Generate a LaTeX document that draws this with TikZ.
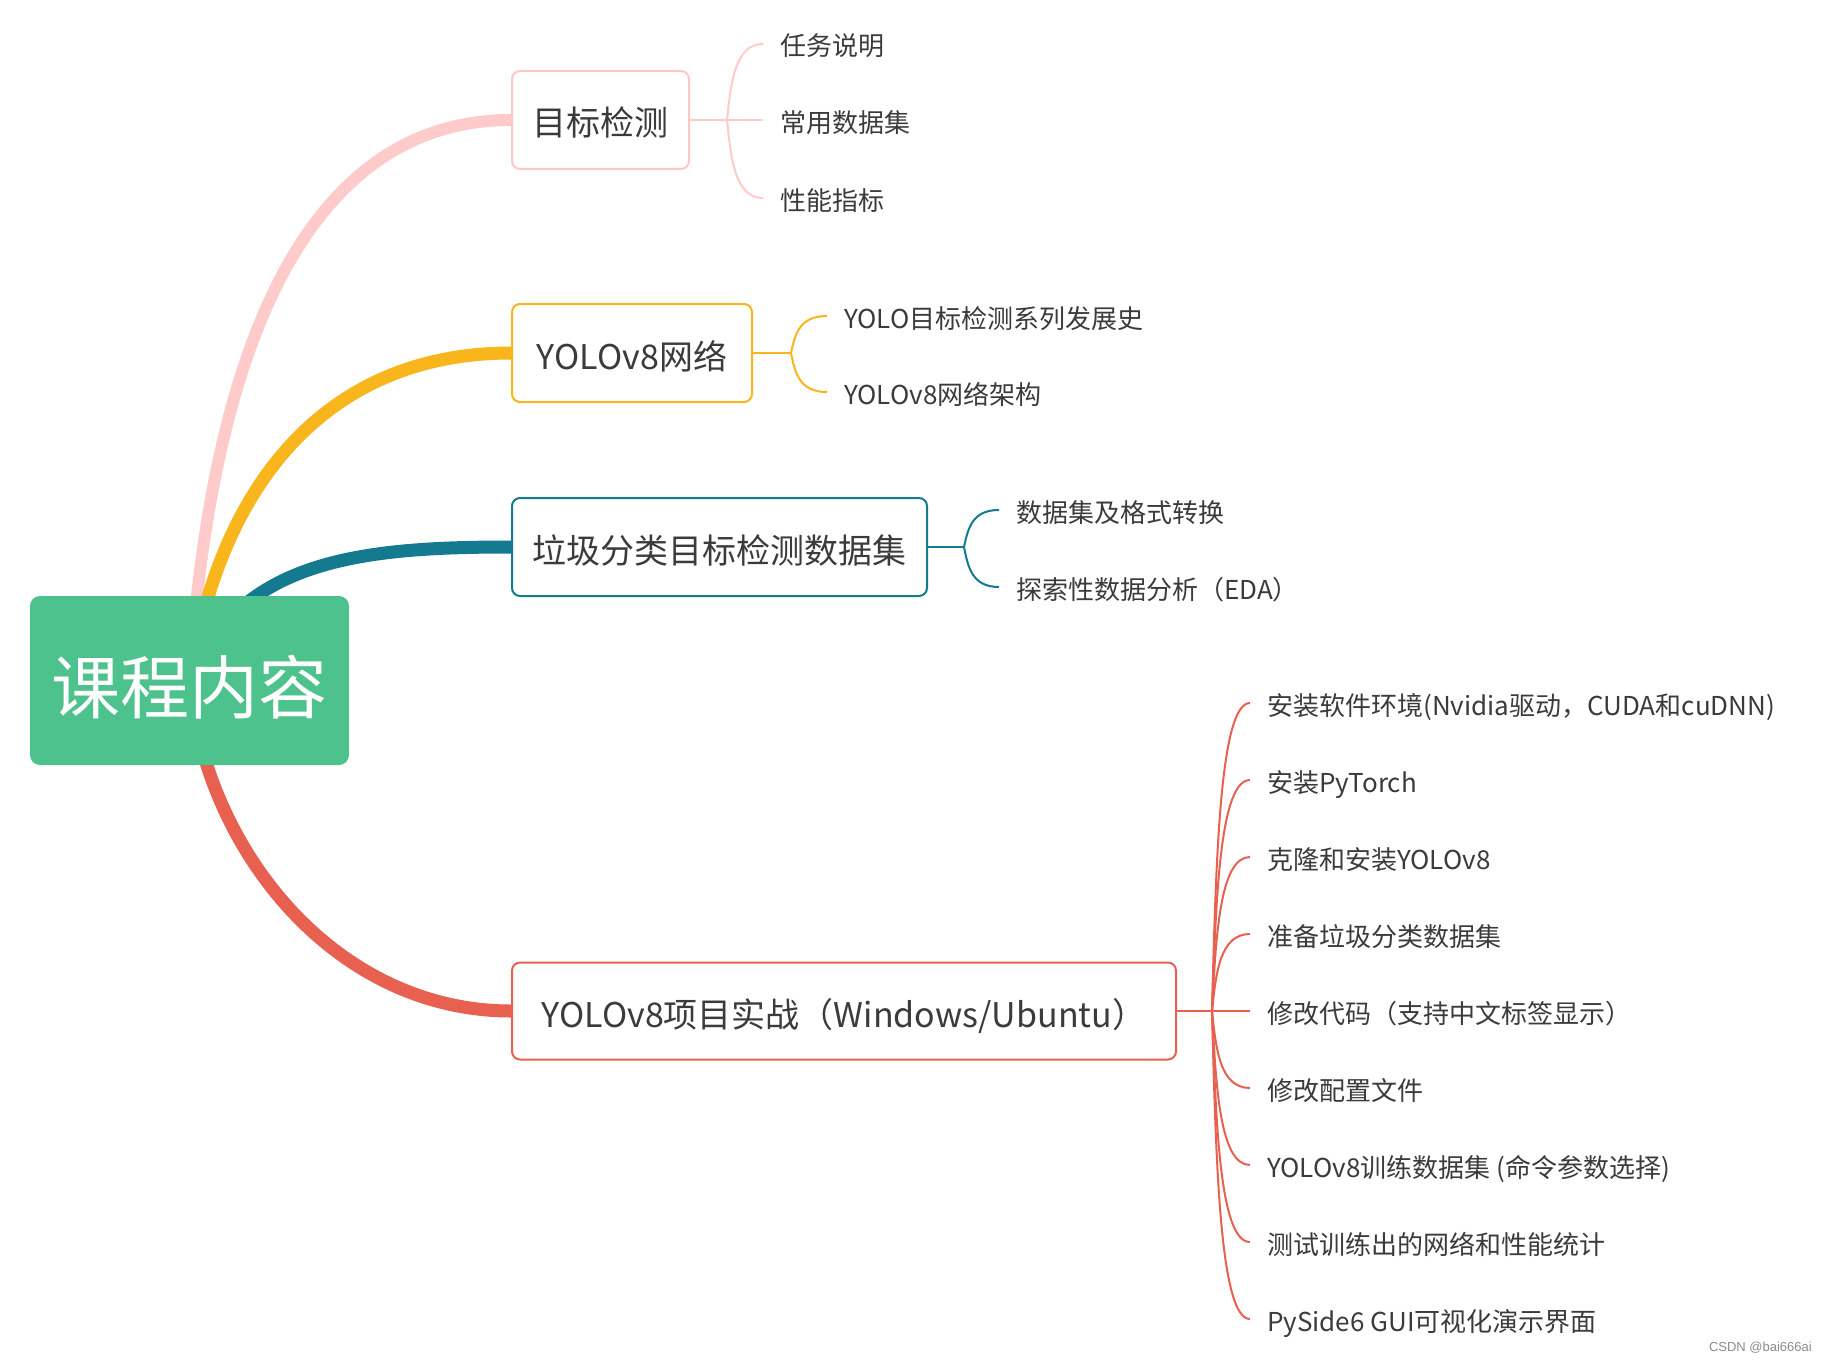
\documentclass[tikz,border=0pt]{standalone}
\usepackage{fontspec}
\setmainfont{Noto Sans CJK SC}
\newfontfamily\wmfont{Liberation Sans}
\usetikzlibrary{calc,backgrounds}
\definecolor{cpink}{HTML}{FFCACA}
\definecolor{cpinkb}{HTML}{FFC6C6}
\definecolor{cyellow}{HTML}{F8B51C}
\definecolor{cteal}{HTML}{147A90}
\definecolor{cred}{HTML}{E8604F}
\definecolor{cgreen}{HTML}{4EC28C}
\definecolor{ctext}{HTML}{3B3B3B}
\newcommand\mmbranch[3]{\draw[#1] (#2) .. controls ($(#2)!0.5!(#2 |- #3.west)+(4,0)$) and ($(#2 |- #3.west)+(8,0)$) .. (#3.west);}
\begin{document}
\begin{tikzpicture}[x=1pt,y=-1pt,
  topic/.style={draw=#1, line width=2pt, rounded corners=8pt, fill=white, inner sep=0pt, anchor=west, font=\fontsize{34}{40}\selectfont, text=ctext, text height=33pt, text depth=1pt},
  leaf/.style={anchor=west, inner xsep=17pt, inner ysep=0pt, font=\fontsize{26}{30}\selectfont, text=ctext, text height=25pt, text depth=1pt},
  bigbranch/.style={line width=13pt, draw=#1},
  twig/.style={line width=2pt, draw=#1}]
\useasboundingbox (0,0) rectangle (1826,1362);

% root
\node[fill=cgreen, rounded corners=10pt, minimum width=319pt, minimum height=169pt, inner sep=0pt, text=white, font=\fontsize{69}{80}\selectfont, text height=70pt, text depth=5pt] (root) at (189.5,680.5) {课程内容};

% topics
\node[topic=cpinkb, minimum width=177pt, minimum height=98pt] (t1) at (511,120) {目标检测};
\node[topic=cyellow, minimum width=240pt, minimum height=98pt] (t2) at (511,353) {YOLOv8网络};
\node[topic=cteal, minimum width=415pt, minimum height=98pt] (t3) at (511,547) {垃圾分类目标检测数据集};
\node[topic=cred, minimum width=664pt, minimum height=97pt] (t4) at (511,1011) {YOLOv8项目实战（Windows/Ubuntu）};

% leaves
\node[leaf] (a1) at (763,44) {任务说明};
\node[leaf] (a2) at (763,120) {常用数据集};
\node[leaf] (a3) at (763,198) {性能指标};
\node[leaf] (b1) at (827,316) {YOLO目标检测系列发展史};
\node[leaf] (b2) at (827,392) {YOLOv8网络架构};
\node[leaf] (c1) at (999,510) {数据集及格式转换};
\node[leaf] (c2) at (999,587) {探索性数据分析（EDA）};
\node[leaf] (d1) at (1250,703) {安装软件环境(Nvidia驱动，CUDA和cuDNN)};
\node[leaf] (d2) at (1250,780) {安装PyTorch};
\node[leaf] (d3) at (1250,857) {克隆和安装YOLOv8};
\node[leaf] (d4) at (1250,934) {准备垃圾分类数据集};
\node[leaf] (d5) at (1250,1011) {修改代码（支持中文标签显示）};
\node[leaf] (d6) at (1250,1088) {修改配置文件};
\node[leaf] (d7) at (1250,1165) {YOLOv8训练数据集 (命令参数选择)};
\node[leaf] (d8) at (1250,1242) {测试训练出的网络和性能统计};
\node[leaf] (d9) at (1250,1319) {PySide6 GUI可视化演示界面};

\node[anchor=east, inner sep=0pt, font=\wmfont\fontsize{13}{15}\selectfont, text=black!45] (wm) at (1812,1348) {CSDN @bai666ai};

% forks
\coordinate (f1) at (727,120);
\coordinate (f2) at (791,353);
\coordinate (f3) at (964,547);
\coordinate (f4) at (1212,1011);

\draw[twig=cpink] (t1.east) -- (f1);
\mmbranch{twig=cpink}{f1}{a1}
\mmbranch{twig=cpink}{f1}{a2}
\mmbranch{twig=cpink}{f1}{a3}

\draw[twig=cyellow] (t2.east) -- (f2);
\mmbranch{twig=cyellow}{f2}{b1}
\mmbranch{twig=cyellow}{f2}{b2}

\draw[twig=cteal] (t3.east) -- (f3);
\mmbranch{twig=cteal}{f3}{c1}
\mmbranch{twig=cteal}{f3}{c2}

\draw[twig=cred] (t4.east) -- (f4);
\foreach \n in {d1,d2,d3,d4,d5,d6,d7,d8,d9}{\mmbranch{twig=cred}{f4}{\n}}

\begin{pgfonlayer}{background}
\fill[white] (0,0) rectangle (1826,1362);
\draw[bigbranch=cpink, line width=12pt] (root.center) .. controls (215,300) and (330,120) .. (t1.west);
\draw[bigbranch=cyellow] (root.center) .. controls (220,480) and (330,353) .. (t2.west);
\draw[bigbranch=cteal] (root.center) .. controls (240,560) and (360,547) .. (t3.west);
\draw[bigbranch=cred] (root.center) .. controls (205,850) and (335,1011) .. (t4.west);
\end{pgfonlayer}
\end{tikzpicture}
\end{document}
